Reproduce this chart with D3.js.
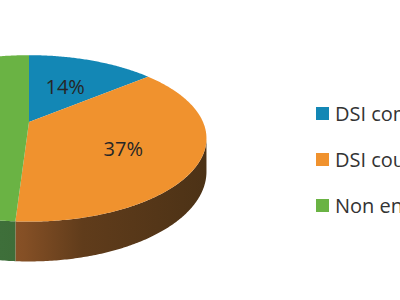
<!DOCTYPE html>
<html>
<head>
<meta charset="utf-8">
<script src="https://cdn.jsdelivr.net/npm/d3@7"></script>
<style>
  body { margin: 0; background: #fff; }
  svg { display: block; }
</style>
</head>
<body>
<svg id="plot"></svg>
<script>
// chart data
const labels = ["DSI compliant", "DSI counselled", "Non enrolled"];
const values = [14, 37, 49];
const colors = ["#1387b5", "#f0922e", "#6ab344"];
const sideColors = [["#0b5573", "#083e55"], ["#8e5428", "#4c3216"], ["#3e6f3a", "#35602f"]];

const svg = d3.select("#plot").attr("width", 400).attr("height", 300);

// 3d look of the pie (perspective, tilt, thickness)
const cx = 29, cy = 122;
const kx = 174, ky = 80, kh = 32;
const F = 5.08;

function project(a, r, h) {
  const u = r * Math.sin(a), v = -r * Math.cos(a);
  const s = F / (F - v);
  return [cx + kx * u * s, cy + ky * v * s + kh * h * s];
}

const pie = d3.pie().sort(null).value(d => d);
const arcs = pie(values);
const line = d3.line();

function samples(a0, a1) {
  const n = Math.max(2, Math.ceil((a1 - a0) / 0.01));
  return d3.range(n + 1).map(i => a0 + (a1 - a0) * i / n);
}

// visible range of the rim: from the rightmost to the leftmost point
const grid = d3.range(0, 2 * Math.PI, 0.001);
const right = grid[d3.maxIndex(grid, a => project(a, 1, 0)[0])];
const left = grid[d3.minIndex(grid, a => project(a, 1, 0)[0])];

const defs = svg.append("defs");
sideColors.forEach(function(c, i) {
  const g = defs.append("linearGradient")
    .attr("id", "side" + i)
    .attr("gradientUnits", "userSpaceOnUse")
    .attr("x1", 0).attr("x2", cx + kx * 1.02).attr("y1", 0).attr("y2", 0);
  g.append("stop").attr("offset", 0).attr("stop-color", c[0]);
  g.append("stop").attr("offset", 0.12).attr("stop-color", d3.interpolateRgb(c[0], c[1])(0.15));
  g.append("stop").attr("offset", 0.4).attr("stop-color", d3.interpolateRgb(c[0], c[1])(0.7));
  g.append("stop").attr("offset", 1).attr("stop-color", c[1]);
});

// sides
arcs.forEach(function(d, i) {
  const a0 = Math.max(d.startAngle, right), a1 = Math.min(d.endAngle, left);
  if (a1 <= a0) return;
  const top = samples(a0, a1).map(a => project(a, 1, 0));
  const bottom = samples(a0, a1).reverse().map(a => project(a, 1, 1));
  svg.append("path")
    .attr("d", line(top.concat(bottom)) + "Z")
    .attr("fill", "url(#side" + i + ")");
});

// top faces
arcs.forEach(function(d, i) {
  const pts = [project(0, 0, 0)].concat(samples(d.startAngle, d.endAngle).map(a => project(a, 1, 0)));
  svg.append("path")
    .attr("d", line(pts) + "Z")
    .attr("fill", colors[i]);
});

// percentage labels
arcs.forEach(function(d, i) {
  if (d.endAngle - d.startAngle > Math.PI) return;
  const mid = (d.startAngle + d.endAngle) / 2;
  const p = project(mid, 0.6, 0);
  svg.append("text")
    .attr("x", p[0] - 4)
    .attr("y", p[1] + 6)
    .attr("text-anchor", "middle")
    .attr("dominant-baseline", "middle")
    .style("font-family", "'Open Sans', sans-serif")
    .style("font-size", "20px")
    .style("fill", "#262626")
    .text(d.data + "%");
});

// legend
const legend = svg.append("g").attr("transform", "translate(316,107)");
labels.forEach(function(l, i) {
  legend.append("rect")
    .attr("x", 0).attr("y", i * 46)
    .attr("width", 13).attr("height", 13)
    .attr("fill", colors[i]);
  legend.append("text")
    .attr("x", 19).attr("y", i * 46 + 14)
    .style("font-family", "'Open Sans', sans-serif")
    .style("font-size", "20px")
    .style("fill", "#333")
    .text(l);
});
</script>
</body>
</html>
